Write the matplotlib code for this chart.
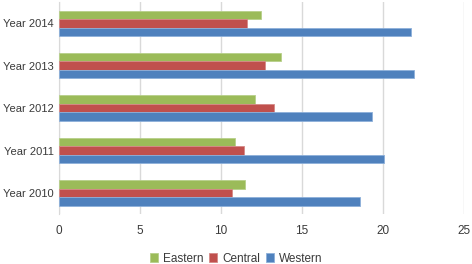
import numpy as np
import matplotlib
matplotlib.use("Agg")
import matplotlib.pyplot as plt

years = ["Year 2010", "Year 2011", "Year 2012", "Year 2013", "Year 2014"]
eastern = [11.5, 10.85, 12.1, 13.7, 12.5]
central = [10.7, 11.4, 13.3, 12.7, 11.6]
western = [18.6, 20.05, 19.3, 21.9, 21.7]
xticks = [0, 5, 10, 15, 20, 25]

plt.rcParams['font.family'] = ['Liberation Sans', 'DejaVu Sans']

fig = plt.figure(figsize=(4.72, 2.64), dpi=100)
ax = fig.add_axes([0.125, 0.189, 0.858, 0.803])

y = np.arange(len(years))
h = 0.2
series = [("Eastern", eastern, "#9BBB59", "#B7D08A"),
          ("Central", central, "#C0504D", "#D58A88"),
          ("Western", western, "#4F81BD", "#8DB0DA")]
for i, (name, vals, col, edge) in enumerate(series):
    ax.barh(y + h * (1 - i), vals, height=h, color=col, edgecolor=edge,
            linewidth=0.6, label=name, zorder=3)

ax.set_xlim(0, 25)
ax.set_ylim(-0.5, 4.5)
ax.set_xticks(xticks)
ax.set_yticks(y)
ax.set_yticklabels(years)
ax.grid(axis='x', color='#D9D9D9', linewidth=1, zorder=0)
for s in ['top', 'right', 'bottom']:
    ax.spines[s].set_visible(False)
ax.spines['left'].set_color('#D9D9D9')
ax.tick_params(length=0, labelsize=8.5, colors='#3A3A3A', pad=8)
ax.tick_params(axis='y', labelsize=8, pad=4)

ax.legend(loc='center', bbox_to_anchor=(0.5, 0.02), bbox_transform=fig.transFigure,
          ncol=3, frameon=False, fontsize=8.5, handlelength=0.7, handleheight=0.7,
          handletextpad=0.4, columnspacing=0.5, labelcolor='#3A3A3A')

fig.savefig("out.png", dpi=100)
